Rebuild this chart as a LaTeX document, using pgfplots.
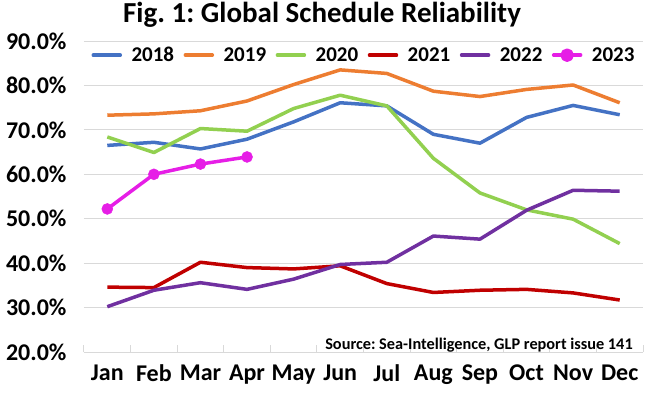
\documentclass[border=0pt]{standalone}
\usepackage{pgfplots}
\pgfplotsset{compat=1.18}
\usepackage{fontspec}
\setmainfont{Carlito}
\definecolor{c18}{HTML}{4472C4}
\definecolor{c19}{HTML}{ED7D31}
\definecolor{c20}{HTML}{92D050}
\definecolor{c21}{HTML}{C00000}
\definecolor{c22}{HTML}{7030A0}
\definecolor{c23}{RGB}{230,30,230}
\definecolor{gridc}{HTML}{D9D9D9}
\begin{document}
\frenchspacing
\begin{tikzpicture}
\path[use as bounding box] (-84pt,-42pt) rectangle (582pt,352pt);
\node[anchor=base, font=\bfseries\fontsize{29}{29}\selectfont] at (238pt,329.5pt) {Fig. 1: Global Schedule Reliability};
\begin{axis}[
  scale only axis, width=559pt, height=311pt,
  at={(0,0)}, anchor=south west,
  xmin=-0.5, xmax=11.5, ymin=20, ymax=90,
  axis y line*=left, axis x line*=bottom,
  y axis line style={draw=none},
  x axis line style={gridc, line width=1pt},
  xtick={0,...,11},
  xticklabels={Jan,Feb,Mar,Apr,May,Jun,Jul,Aug,Sep,Oct,Nov,Dec},
  minor xtick={-0.5,0.5,...,11.5},
  minor tick length=7pt,
  major tick length=0pt,
  xtick align=inside,
  minor tick style={gridc, line width=1pt},
  ytick={20,30,...,90},
  ymajorgrids, grid style={gridc, line width=1pt},
  /pgf/number format/assume math mode=true,
  yticklabel={\pgfmathprintnumber[fixed,fixed zerofill,precision=1]{\tick}\%},
  ticklabel style={font=\bfseries\fontsize{24}{24}\selectfont},
  y tick label style={xshift=-14pt},
  x tick label style={yshift=-9pt},
  legend style={at={(0.5,1)}, anchor=north, xshift=0pt, yshift=-5pt, draw=none, fill=none,
    font=\bfseries\fontsize{21}{21}\selectfont, column sep=8.5pt, inner sep=0pt,
    nodes={inner sep=1pt}},
  legend columns=6,
  legend image code/.code={\draw[#1, line cap=round] (3pt,0pt) -- (30pt,0pt);},
  every axis plot/.append style={line width=3.5pt, line join=round},
  clip=false,
]
\addplot[c18, no markers] coordinates {(0,66.5)(1,67.2)(2,65.7)(3,67.9)(4,71.8)(5,76.1)(6,75.4)(7,69.0)(8,67.0)(9,72.8)(10,75.5)(11,73.4)};
\addlegendentry{2018}
\addplot[c19, no markers] coordinates {(0,73.3)(1,73.6)(2,74.3)(3,76.5)(4,80.2)(5,83.5)(6,82.7)(7,78.7)(8,77.5)(9,79.1)(10,80.1)(11,76.1)};
\addlegendentry{2019}
\addplot[c20, no markers] coordinates {(0,68.4)(1,64.9)(2,70.3)(3,69.7)(4,74.8)(5,77.8)(6,75.4)(7,63.6)(8,55.8)(9,52.0)(10,49.9)(11,44.4)};
\addlegendentry{2020}
\addplot[c21, no markers] coordinates {(0,34.6)(1,34.5)(2,40.2)(3,39.0)(4,38.7)(5,39.4)(6,35.4)(7,33.4)(8,33.9)(9,34.1)(10,33.3)(11,31.7)};
\addlegendentry{2021}
\addplot[c22, no markers] coordinates {(0,30.2)(1,33.9)(2,35.6)(3,34.1)(4,36.4)(5,39.7)(6,40.2)(7,46.1)(8,45.4)(9,51.9)(10,56.4)(11,56.2)};
\addlegendentry{2022}
\addplot[c23, mark=*, mark size=5.5pt, mark options={solid, line width=0.5pt, fill=c23, draw=c23},
  legend image code/.code={\draw[c23, line width=3.5pt, line cap=round] (3pt,0pt) -- (30pt,0pt); \fill[c23] (16.5pt,0pt) circle (5pt);}] coordinates {(0,52.2)(1,60.0)(2,62.3)(3,63.9)};
\addlegendentry{2023}
\node[anchor=base east, font=\bfseries\fontsize{16.3}{16.3}\selectfont] at (rel axis cs:0.988,0) [yshift=3pt] {Source: Sea-Intelligence, GLP report issue 141};
\end{axis}
\end{tikzpicture}
\end{document}
